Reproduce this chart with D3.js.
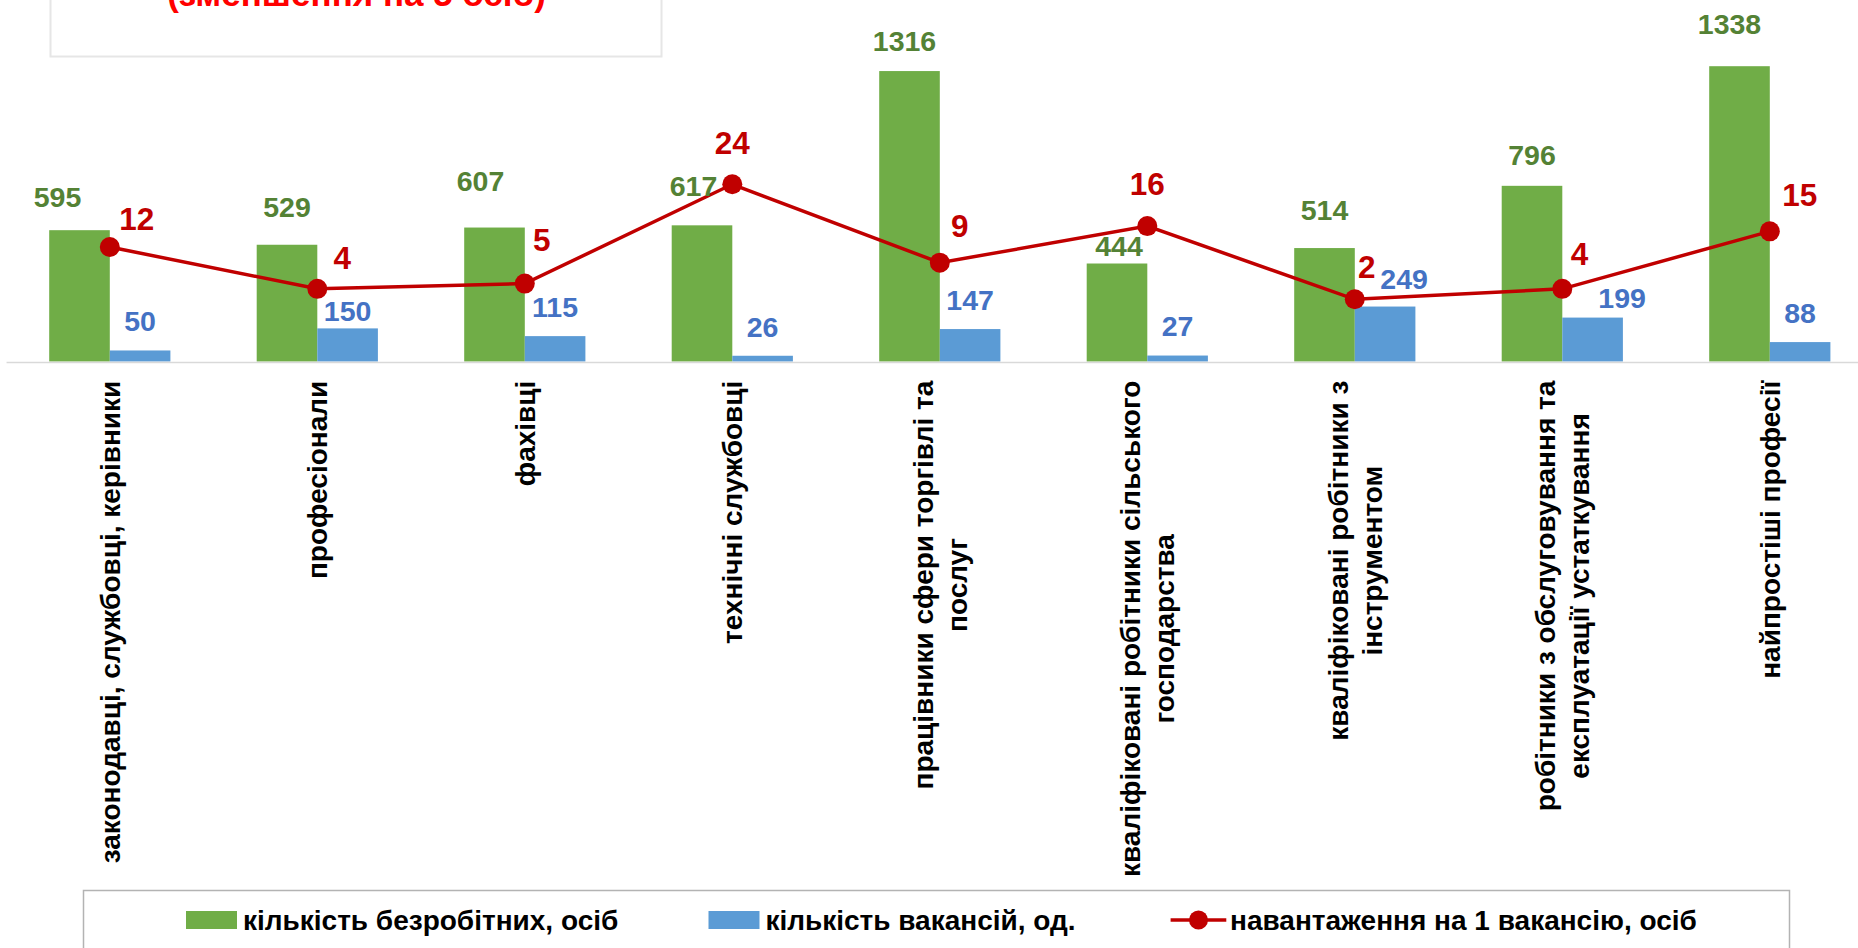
<!DOCTYPE html>
<html>
<head>
<meta charset="utf-8">
<script src="https://cdn.jsdelivr.net/npm/d3@7"></script>
<style>
  body { margin: 0; background: #fff; }
  svg { display: block; font-family: "Liberation Sans", Arial, sans-serif; font-weight: bold; }
</style>
</head>
<body>
<div id="chart"></div>
<script>
// data
var categories = [
  "законодавці, службовці, керівники",
  "професіонали",
  "фахівці",
  "технічні службовці",
  "працівники сфери торгівлі та\nпослуг",
  "кваліфіковані робітники сільського\nгосподарства",
  "кваліфіковані робітники з\nінструментом",
  "робітники з обслуговування та\nексплуатації устаткування",
  "найпростіші професії"
];
var unemployed = [595, 529, 607, 617, 1316, 444, 514, 796, 1338];
var vacancies  = [50, 150, 115, 26, 147, 27, 249, 199, 88];
var loadPerVacancy = [12, 4, 5, 24, 9, 16, 2, 4, 15];
var seriesNames = [
  "кількість безробітних, осіб",
  "кількість вакансій, од.",
  "навантаження на 1 вакансію, осіб"
];
var subtitle = "(зменшення на 5 осіб)";

// colours
var green = "#70AD47", greenText = "#548235";
var blue = "#5B9BD5", blueText = "#4472C4";
var red = "#C00000";

// hand-placed label nudges (pixels), as in the original
var greenDx  = [-22, 0, -14, -8.5, -5, 2, 0, 0, -10];
var greenGap = [22.7, 27.7, 36.6, 29.3, 20, 7.3, 27.7, 20.7, 32.4];
var blueDx   = [0, 0, 0, 0, 0, 0, 19, 29.5, 0];
var blueGap  = [19, 7, 19, 19, 19, 20, 17.3, 9.3, 19.4];
var redDx    = [27, 25, 17, 0, 20, 0, 12, 17.2, 30];
var redGap   = [17.3, 19.4, 32.3, 30, 26, 30.7, 21.7, 24.3, 25];

var width = 1858, height = 948;
var baseY = 361.5, barW = 60.6;

var svg = d3.select("#chart")
  .append("svg")
    .attr("width", width)
    .attr("height", height);

// scales
var x = d3.scaleBand()
  .domain(categories)
  .range([6.05, 6.05 + 9 * 207.5]);
var cx = function(i) { return x(categories[i]) + x.bandwidth() / 2; };

var y = d3.scaleLinear()
  .domain([0, 1400])
  .range([baseY, baseY - 1400 * 0.2207]);

var y2 = d3.scaleLinear()
  .domain([-10, 50])
  .range([362, 48.4]);

// title box (mostly cropped off the top)
svg.append("rect")
  .attr("x", 50.5).attr("y", -10)
  .attr("width", 611).attr("height", 66.5)
  .attr("fill", "#fff")
  .attr("stroke", "#e6e6e6")
  .attr("stroke-width", 2);
svg.append("text")
  .attr("x", 356.5).attr("y", 6)
  .attr("text-anchor", "middle")
  .style("font-size", "35px")
  .attr("fill", "#FF0000")
  .text(subtitle);

// bars
svg.append("g").selectAll("rect")
  .data(unemployed)
  .join("rect")
    .attr("x", function(d, i) { return cx(i) - barW; })
    .attr("y", function(d) { return y(d); })
    .attr("width", barW)
    .attr("height", function(d) { return y(0) - y(d); })
    .attr("fill", green);

svg.append("g").selectAll("rect")
  .data(vacancies)
  .join("rect")
    .attr("x", function(d, i) { return cx(i); })
    .attr("y", function(d) { return y(d); })
    .attr("width", barW)
    .attr("height", function(d) { return y(0) - y(d); })
    .attr("fill", blue);

// x axis line only
var xAxis = svg.append("g")
  .attr("transform", "translate(0," + (baseY + 0.5) + ")")
  .call(d3.axisBottom(x).tickSize(0).tickFormat(""));
xAxis.select(".domain").attr("stroke", "#d9d9d9").attr("stroke-width", 1.6);

// category labels, rotated, wrapped lines centred on each other
var labelTop = 380.7, lineH = 34;
categories.forEach(function(c, i) {
  var lines = c.split("\n");
  var g = svg.append("g")
    .attr("transform", "translate(" + cx(i) + "," + labelTop + ") rotate(-90)");
  var texts = lines.map(function(s, j) {
    return g.append("text")
      .attr("y", (j - (lines.length - 1) / 2) * lineH)
      .attr("dy", "0.35em")
      .attr("text-anchor", "middle")
      .style("font-size", "28px")
      .attr("fill", "#000")
      .text(s);
  });
  var maxLen = d3.max(texts, function(t) { return t.node().getComputedTextLength(); });
  texts.forEach(function(t) { t.attr("x", -maxLen / 2); });
});

// line on secondary scale
svg.append("path")
  .datum(loadPerVacancy)
  .attr("fill", "none")
  .attr("stroke", red)
  .attr("stroke-width", 3.5)
  .attr("d", d3.line()
    .x(function(d, i) { return cx(i); })
    .y(function(d) { return y2(d); }));

svg.append("g").selectAll("circle")
  .data(loadPerVacancy)
  .join("circle")
    .attr("cx", function(d, i) { return cx(i); })
    .attr("cy", function(d) { return y2(d); })
    .attr("r", 10)
    .attr("fill", red);

// value labels
svg.append("g").selectAll("text")
  .data(unemployed)
  .join("text")
    .attr("x", function(d, i) { return cx(i) - barW / 2 + greenDx[i]; })
    .attr("y", function(d, i) { return y(d) - greenGap[i]; })
    .attr("text-anchor", "middle")
    .style("font-size", "28.5px")
    .attr("fill", greenText)
    .text(function(d) { return d; });

svg.append("g").selectAll("text")
  .data(vacancies)
  .join("text")
    .attr("x", function(d, i) { return cx(i) + barW / 2 + blueDx[i]; })
    .attr("y", function(d, i) { return y(d) - blueGap[i]; })
    .attr("text-anchor", "middle")
    .style("font-size", "28.5px")
    .attr("fill", blueText)
    .text(function(d) { return d; });

svg.append("g").selectAll("text")
  .data(loadPerVacancy)
  .join("text")
    .attr("x", function(d, i) { return cx(i) + redDx[i]; })
    .attr("y", function(d, i) { return y2(d) - redGap[i]; })
    .attr("text-anchor", "middle")
    .style("font-size", "31.5px")
    .attr("fill", red)
    .text(function(d) { return d; });

// legend
svg.append("rect")
  .attr("x", 83.5).attr("y", 890.5)
  .attr("width", 1706).attr("height", 80)
  .attr("fill", "#fff")
  .attr("stroke", "#b3b3b3")
  .attr("stroke-width", 1.5);

var legY = 920;
var leg = svg.append("g");
leg.append("rect").attr("x", 186).attr("y", legY - 9).attr("width", 51).attr("height", 18).attr("fill", green);
leg.append("rect").attr("x", 708.5).attr("y", legY - 9).attr("width", 51).attr("height", 18).attr("fill", blue);
leg.append("line").attr("x1", 1170.6).attr("x2", 1226.3).attr("y1", legY).attr("y2", legY)
  .attr("stroke", red).attr("stroke-width", 3.5);
leg.append("circle").attr("cx", 1198.5).attr("cy", legY).attr("r", 9.5).attr("fill", red);

var legTextX = [243, 765.4, 1230];
seriesNames.forEach(function(s, i) {
  leg.append("text")
    .attr("x", legTextX[i]).attr("y", legY)
    .attr("dy", "0.35em")
    .style("font-size", "28px")
    .attr("fill", "#000")
    .text(s);
});
</script>
</body>
</html>
